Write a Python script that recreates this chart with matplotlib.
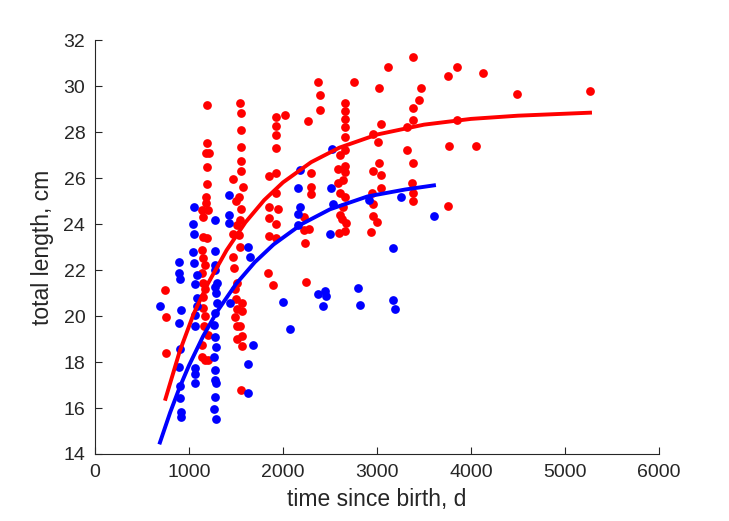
import matplotlib
matplotlib.use("Agg")
import matplotlib.pyplot as plt

plt.rcParams['font.family'] = ['Liberation Sans', 'DejaVu Sans']

# ---- red group (time since birth d, total length cm) ----
red_t = [745, 755, 755,
         1191, 1191, 1181, 1213, 1191, 1191, 1181, 1181, 1138, 1202, 1149, 1149, 1191, 1138,
         1149, 1170, 1138, 1149, 1170, 1149, 1149, 1170, 1160, 1202, 1138, 1138, 1170, 1202,
         1543, 1553, 1553, 1553, 1553, 1553, 1468, 1574, 1532, 1500, 1553, 1543, 1511, 1468,
         1532, 1543, 1468, 1479, 1511, 1489, 1500, 1564, 1511, 1564, 1489, 1511, 1543, 1564,
         1511, 1564, 1553,
         1926, 2021, 1926, 1926, 1926, 1851, 1926, 1926, 1851, 1947, 1851, 1926, 1851, 1926,
         1840, 1894,
         2372, 2394, 2394, 2266, 2298, 2298, 2298, 2223, 2223, 2277, 2234, 2245,
         2660, 2660, 2660, 2660, 2660, 2660, 2606, 2660, 2585, 2660, 2638, 2585, 2606, 2660,
         2638, 2606, 2628, 2670, 2660, 2596, 2755,
         3021, 3043, 2957, 3011, 3021, 2957, 3043, 3043, 2947, 2957, 2957, 3000, 2936,
         3117, 3383, 3468, 3447, 3383, 3383, 3319, 3319, 3383, 3372, 3383, 3383,
         3755, 3851, 4128, 3851, 3766, 4053, 3755, 4489, 5266]
red_len = [21.13, 19.96, 18.39,
           29.17, 27.52, 27.09, 27.09, 26.48, 25.74, 25.17, 24.91, 24.61, 24.61, 24.30, 23.43, 23.39, 22.87,
           22.52, 22.22, 21.87, 21.43, 21.17, 20.83, 20.35, 20.00, 19.57, 19.17, 18.74, 18.22, 18.09, 18.09,
           29.26, 28.83, 28.09, 27.35, 26.74, 26.30, 25.96, 25.61, 25.17, 25.00, 24.65, 24.17, 23.96, 23.57,
           23.52, 23.00, 22.57, 22.09, 21.43, 21.17, 20.74, 20.57, 20.30, 20.22, 19.96, 19.57, 19.57, 19.13,
           19.00, 18.70, 16.78,
           28.65, 28.74, 28.26, 27.87, 27.30, 26.09, 26.22, 25.35, 24.74, 24.65, 24.26, 24.00, 23.48, 23.39,
           21.87, 21.35,
           30.17, 29.61, 28.96, 28.48, 26.22, 25.61, 25.30, 24.30, 23.74, 23.78, 23.17, 21.48,
           29.26, 28.91, 28.57, 28.22, 27.78, 27.22, 27.00, 26.52, 26.39, 26.26, 25.91, 25.78, 25.35, 25.17,
           24.74, 24.39, 24.22, 24.04, 23.70, 23.61, 30.17,
           29.91, 28.35, 27.91, 27.57, 26.65, 26.30, 26.13, 25.57, 25.35, 24.87, 24.35, 24.09, 23.65,
           30.83, 31.26, 29.91, 29.39, 29.04, 28.52, 28.22, 27.22, 26.65, 25.78, 25.35, 25.00,
           30.43, 30.83, 30.57, 28.52, 27.39, 27.39, 24.79, 29.65, 29.78]

# ---- blue group ----
blue_t = [691,
          894, 894, 904, 915, 894, 904, 894, 904, 904, 915, 915,
          1053, 1043, 1053, 1043, 1053, 1085, 1064, 1085, 1085, 1064, 1064, 1064, 1064, 1064,
          1277, 1277, 1277, 1277, 1298, 1277, 1287, 1298, 1277, 1266, 1277, 1287, 1266, 1277,
          1277, 1287, 1277, 1266, 1287,
          1426, 1426, 1426, 1436, 1628, 1649, 1681, 1628, 1628, 2000, 2074,
          2181, 2160, 2181, 2160, 2160, 2521, 2511, 2532, 2500,
          2372, 2447, 2457, 2426, 2798, 2819, 2915, 3255, 3606, 3170, 3170, 3191]
blue_len = [20.43,
            22.35, 21.87, 21.61, 20.26, 19.70, 18.57, 17.78, 16.96, 16.43, 15.83, 15.61,
            24.74, 24.00, 23.57, 22.78, 22.30, 21.78, 21.39, 20.78, 20.43, 20.04, 19.57, 17.74, 17.48, 17.09,
            24.17, 22.83, 22.22, 22.00, 21.43, 21.26, 21.00, 20.57, 20.13, 19.61, 19.09, 18.65, 18.22, 17.65,
            17.22, 17.09, 16.48, 15.96, 15.52,
            25.26, 24.39, 24.04, 20.57, 23.00, 22.57, 18.74, 17.91, 16.65, 20.61, 19.43,
            26.35, 25.57, 24.74, 24.43, 23.96, 27.26, 25.57, 24.87, 23.57,
            20.96, 21.09, 20.87, 20.43, 21.22, 20.48, 25.04, 25.17, 24.35, 22.96, 20.70, 20.30]

# ---- fitted growth curves ----
red_fit_t = [750, 900, 1050, 1200, 1400, 1600, 1800, 2000, 2300, 2600, 3000, 3500, 4000, 4500, 5266]
red_fit_len = [16.40, 18.45, 20.10, 21.40, 22.86, 24.07, 25.04, 25.81, 26.69, 27.32, 27.89, 28.32, 28.57, 28.71, 28.84]
blue_fit_t = [691, 800, 900, 1000, 1150, 1300, 1500, 1700, 1900, 2200, 2500, 2900, 3300, 3606]
blue_fit_len = [14.50, 15.81, 16.89, 17.85, 19.12, 20.20, 21.39, 22.34, 23.11, 24.00, 24.64, 25.20, 25.50, 25.68]

x_ticks = [0, 1000, 2000, 3000, 4000, 5000, 6000]
y_ticks = [14, 16, 18, 20, 22, 24, 26, 28, 30, 32]

fig = plt.figure(figsize=(7.29, 5.21), dpi=100)
ax = fig.add_axes([0.1303, 0.1286, 0.7737, 0.7946])

ax.plot(red_t, red_len, 'o', color=(1, 0, 0), markersize=6.3, markeredgewidth=0, zorder=2)
ax.plot(blue_t, blue_len, 'o', color=(0, 0, 1), markersize=6.3, markeredgewidth=0, zorder=3)
ax.plot(red_fit_t, red_fit_len, '-', color=(1, 0, 0), linewidth=2.8, zorder=4)
ax.plot(blue_fit_t, blue_fit_len, '-', color=(0, 0, 1), linewidth=2.8, zorder=5)

ax.set_xlim(0, 6000)
ax.set_ylim(14, 32)
ax.set_xticks(x_ticks)
ax.set_yticks(y_ticks)
ax.set_xticklabels([str(v) for v in x_ticks])
ax.set_yticklabels([str(v) for v in y_ticks])

gray = (0.15, 0.15, 0.15)
for side in ['top', 'right']:
    ax.spines[side].set_visible(False)
for side in ['left', 'bottom']:
    ax.spines[side].set_color(gray)
    ax.spines[side].set_linewidth(0.8)
ax.tick_params(direction='in', length=5, width=0.8, colors=gray, labelsize=14, pad=7)
ax.set_xlabel('time since birth, d', fontsize=16.5, color=gray, labelpad=5)
ax.set_ylabel('total length, cm', fontsize=16.5, color=gray, labelpad=7)

fig.savefig('out.png', dpi=100)
